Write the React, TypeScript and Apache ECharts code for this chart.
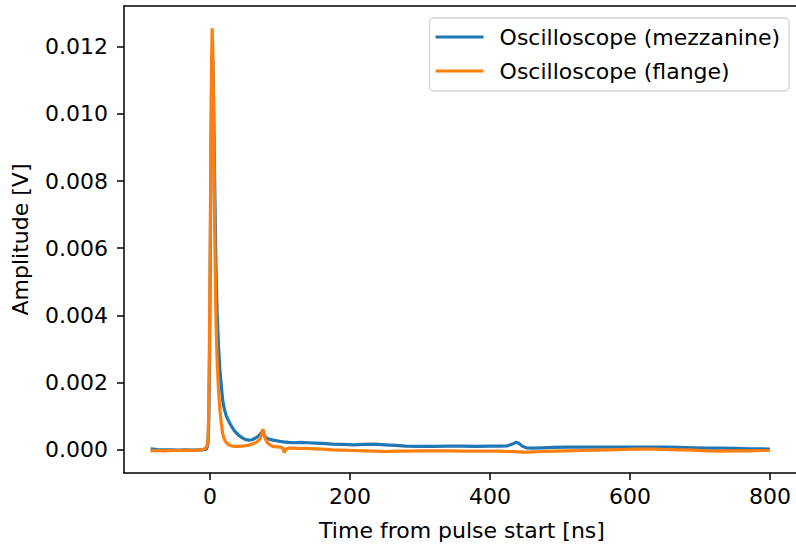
import React, { useEffect, useRef } from "react";
import * as echarts from "echarts";

// Time from pulse start [ns]
const times = [
  -85, -75, -65, -55, -45, -35, -25, -15, -10, -8, -6, -5, -4, -3, -2, -1,
  0, 1, 2, 3, 4, 5, 6, 7, 8, 9, 10, 12, 14, 16, 18, 20, 23, 26, 30, 35, 40,
  45, 50, 55, 60, 65, 69, 72, 74, 75.5, 77, 79, 82, 86, 90, 95, 100, 104, 106,
  108, 112, 120, 130, 140, 150, 160, 175, 190, 205, 220, 235, 250, 265, 280,
  300, 320, 340, 360, 380, 400, 415, 425, 432, 437, 441, 446, 452, 460, 475,
  490, 510, 530, 550, 570, 590, 610, 630, 650, 670, 690, 710, 730, 750, 770,
  785, 800,
];

// Oscilloscope (mezzanine) amplitude [V]
const mezzanine = [
  0.00003, 0.00001, 0.0, 0.0, -0.00001, 0.0, -0.00001, 0.0, 0.0, 0.00001,
  0.00002, 0.00004, 0.00008, 0.0002, 0.0007, 0.0022,
  0.0047, 0.0077, 0.0104, 0.0117, 0.0116, 0.0105, 0.0089, 0.0074, 0.006,
  0.0049, 0.0041, 0.0031, 0.0024, 0.0019, 0.00148, 0.00124, 0.00102, 0.00088,
  0.00072, 0.00056, 0.00045,
  0.00037, 0.00031, 0.00029, 0.0003, 0.00035, 0.00041, 0.00047, 0.00053,
  0.00057, 0.00046, 0.00038, 0.00034, 0.00031, 0.00029, 0.00027, 0.00025,
  0.00024, 0.00023,
  0.00023, 0.00022, 0.00021, 0.00022, 0.00021, 0.0002, 0.00019, 0.00017,
  0.00016, 0.00015, 0.00016, 0.00017, 0.00015, 0.00013, 0.00011,
  0.0001, 0.0001, 0.00011, 0.00011, 0.0001, 0.00011, 0.00011, 0.00012,
  0.00017, 0.00022, 0.0002, 0.00011, 0.00006, 0.00005, 0.00006,
  0.00007, 0.00008, 0.00008, 0.00008, 0.00008, 0.00008, 0.00008, 0.00008,
  0.00008, 0.00007, 0.00006, 0.00005, 0.00005, 0.00004, 0.00003,
  0.00003, 0.00002,
];

// Oscilloscope (flange) amplitude [V]
const flange = [
  -0.00003, -0.00002, -0.00003, -0.00002, -0.00002, -0.00001, -0.00002, 0.0,
  0.00001, 0.00003, 0.00006, 0.0001, 0.00016, 0.0003, 0.0011, 0.003,
  0.0056, 0.0086, 0.0114, 0.01255, 0.0118, 0.0099, 0.0077, 0.0059, 0.0044,
  0.0034, 0.0027, 0.0018, 0.0012, 0.0008, 0.00048, 0.00033, 0.00022, 0.00016,
  0.00012, 0.0001, 0.0001,
  0.00011, 0.00012, 0.00014, 0.00017, 0.00021, 0.00027, 0.00036, 0.00048,
  0.00062, 0.00048, 0.00032, 0.00021, 0.00014, 0.0001, 0.00009, 0.00008,
  0.00006, -0.00008,
  0.00001, 0.00005, 0.00005, 0.00004, 0.00004, 0.00003, 0.00002, 0.0,
  -0.00001, -0.00002, -0.00003, -0.00004, -0.00005, -0.00004, -0.00004,
  -0.00003, -0.00003, -0.00003, -0.00004, -0.00004, -0.00004, -0.00004,
  -0.00005, -0.00005, -0.00006, -0.00006, -0.00007, -0.00007, -0.00006,
  -0.00005,
  -0.00004, -0.00003, -0.00002, -0.00001, 0.0, 0.00001, 0.00002, 0.00002,
  0.00001, 0.0, -0.00001, -0.00003, -0.00004, -0.00003, -0.00003,
  -0.00002, -0.00002,
];

const xTicks = [0, 200, 400, 600, 800];
const yTicks = [0, 0.002, 0.004, 0.006, 0.008, 0.01, 0.012];

const FONT = "DejaVu Sans";
const FS = 22;
const SPINE = { color: "#000", width: 1.5 };

export default function App() {
  const ref = useRef<HTMLDivElement>(null);
  useEffect(() => {
    if (!ref.current) return;
    const chart = echarts.init(ref.current, null, { renderer: "svg" });
    const pairs = (vals: number[]) => times.map((t, i) => [t, vals[i]]);
    chart.setOption({
      animation: false,
      backgroundColor: "#ffffff",
      textStyle: { fontFamily: FONT },
      grid: {
        left: 124,
        top: 6,
        bottom: 72,
        right: 0,
        show: false,
      },
      legend: {
        orient: "vertical",
        right: 11,
        top: 18,
        padding: [7, 9, 8, 6],
        itemGap: 10,
        itemWidth: 48,
        itemHeight: 3,
        icon: "rect",
        borderColor: "#d4d4d4",
        borderWidth: 1.3,
        borderRadius: 4,
        backgroundColor: "rgba(255,255,255,0.8)",
        textStyle: {
          fontFamily: FONT,
          fontSize: FS,
          color: "#000000",
          lineHeight: 24,
          padding: [0, 0, 0, 11],
        },
        data: ["Oscilloscope (mezzanine)", "Oscilloscope (flange)"],
      },
      xAxis: [
        {
          type: "value",
          position: "bottom",
          min: -123,
          max: 843,
          name: "Time from pulse start [ns]",
          nameLocation: "middle",
          nameGap: 46,
          nameTextStyle: { fontFamily: FONT, fontSize: FS, color: "#000000" },
          splitLine: { show: false },
          axisLine: { show: true, onZero: false, lineStyle: SPINE },
          axisTick: {
            show: true,
            length: 7,
            customValues: xTicks,
            lineStyle: SPINE,
          },
          axisLabel: {
            customValues: xTicks,
            margin: 12,
            fontFamily: FONT,
            fontSize: FS,
            color: "#000000",
            formatter: (v: number) => String(v),
          },
        },
        {
          type: "value",
          position: "top",
          min: -123,
          max: 843,
          splitLine: { show: false },
          axisLine: { show: true, onZero: false, lineStyle: SPINE },
          axisTick: { show: false },
          axisLabel: { show: false },
        },
      ],
      yAxis: {
        type: "value",
        min: -0.00069,
        max: 0.01321,
        name: "Amplitude [V]",
        nameLocation: "middle",
        nameGap: 93,
        nameRotate: 90,
        nameTextStyle: { fontFamily: FONT, fontSize: FS, color: "#000000" },
        splitLine: { show: false },
        axisLine: { show: true, onZero: false, lineStyle: SPINE },
        axisTick: {
          show: true,
          length: 7,
          customValues: yTicks,
          lineStyle: SPINE,
        },
        axisLabel: {
          customValues: yTicks,
          margin: 16,
          fontFamily: FONT,
          fontSize: FS,
          color: "#000000",
          formatter: (v: number) => v.toFixed(3),
        },
      },
      series: [
        {
          name: "Oscilloscope (mezzanine)",
          type: "line",
          xAxisIndex: 0,
          data: pairs(mezzanine),
          showSymbol: false,
          symbol: "none",
          color: "#1f77b4",
          lineStyle: { color: "#1f77b4", width: 3.2 },
        },
        {
          name: "Oscilloscope (flange)",
          type: "line",
          xAxisIndex: 0,
          data: pairs(flange),
          showSymbol: false,
          symbol: "none",
          color: "#ff7f0e",
          lineStyle: { color: "#ff7f0e", width: 3.2 },
        },
      ],
    });
    return () => chart.dispose();
  }, []);
  return (
    <div
      style={{
        position: "absolute",
        left: 0,
        top: 0,
        width: 796,
        height: 546,
        overflow: "hidden",
      }}
    >
      <div ref={ref} style={{ width: 800, height: 546 }} />
    </div>
  );
}
